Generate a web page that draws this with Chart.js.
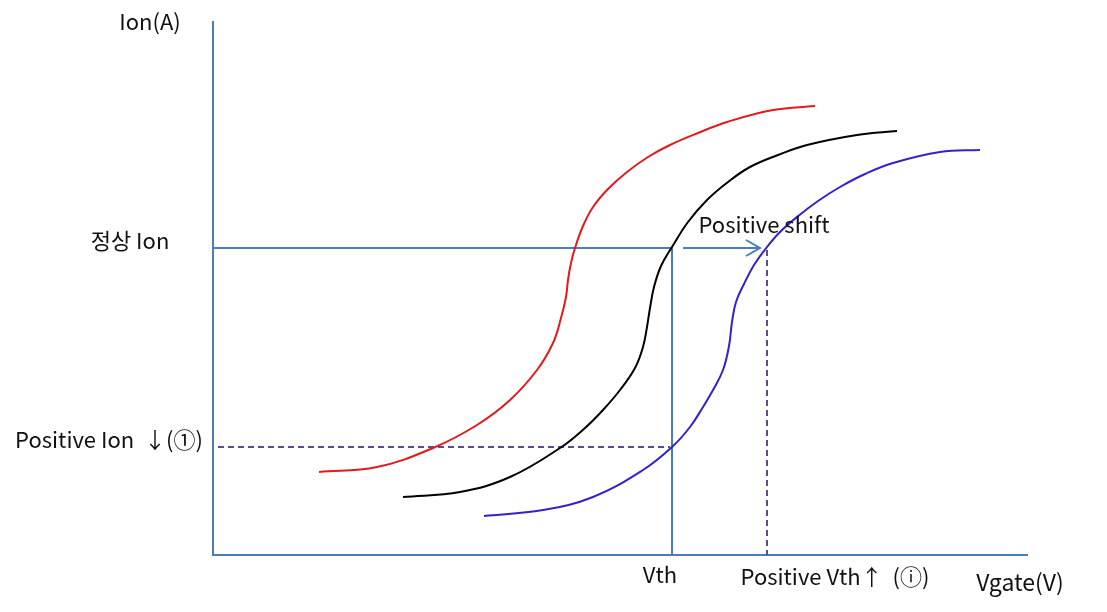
<!DOCTYPE html>
<html>
<head>
<meta charset="utf-8">
<script src="https://cdn.jsdelivr.net/npm/chart.js@4/dist/chart.umd.min.js"></script>
<style>
  body { margin: 0; background: #fff; }
</style>
</head>
<body>
<canvas id="sw-chart" width="1107" height="612"></canvas>
<script>
// curva deslocada (Ion baixo)
var redVg  = [106, 164, 220, 264, 297, 324, 340, 348, 353, 355, 358, 362, 370, 380, 395, 414, 435, 457, 485, 514, 560, 602];
var redIon = [83, 88, 107, 130, 155, 185, 212, 237, 258, 275, 292, 307, 329, 348, 366, 383, 398, 410, 422, 433, 445, 449];
// curva normal
var blackVg  = [190, 247, 297, 347, 372, 390, 407, 422, 430, 434, 437, 441, 448, 459, 475, 494, 515, 537, 565, 594, 644, 684];
var blackIon = [58, 63, 78, 107, 127, 145, 165, 187, 208, 228, 247, 268, 289, 308, 333, 355, 373, 388, 400, 410, 420, 424];
// positive shift
var blueVg  = [271, 330, 380, 430, 459, 477, 490, 500, 510, 516, 519, 523, 531, 541, 554, 567, 584, 605, 627, 652, 680, 727, 767];
var blueIon = [39, 45, 58, 85, 108, 128, 148, 165, 185, 209, 233, 253, 271, 290, 308, 323, 338, 354, 368, 381, 392, 403, 405];

var vth = 459;
var vthShift = 554;
var ionNormal = 307;
var ionLow = 108;
var arrowFrom = 470, arrowTo = 547;

function pts(xs, ys) {
  return xs.map(function (x, i) { return { x: x, y: ys[i] }; });
}

var lineBlue = "#4a7ebb";
var purple = "#5f4b8b";
var font = "'Noto Sans CJK KR', 'Noto Sans', sans-serif";

var labels = {
  id: "labels",
  afterDraw: function (chart) {
    var ctx = chart.ctx;
    var xs = chart.scales.x, ys = chart.scales.y;
    ctx.save();
    // ponta da seta
    var tx = xs.getPixelForValue(arrowTo), ty = ys.getPixelForValue(ionNormal);
    ctx.strokeStyle = lineBlue;
    ctx.lineWidth = 2;
    ctx.beginPath();
    ctx.moveTo(tx - 14, ty - 8);
    ctx.lineTo(tx, ty);
    ctx.lineTo(tx - 14, ty + 8);
    ctx.stroke();

    ctx.fillStyle = "#111";
    ctx.textBaseline = "middle";
    ctx.textAlign = "center";
    ctx.font = "22px " + font;
    ctx.fillText("Ion(A)", 150, 22);
    ctx.fillText("정상 Ion", 130, ys.getPixelForValue(ionNormal) - 7);
    ctx.fillText("Positive Ion  \u2193(\u2460)", 109, ys.getPixelForValue(ionLow) - 7);
    ctx.fillText("Positive shift", 764, ys.getPixelForValue(ionNormal) - 23);
    ctx.fillText("Vth", xs.getPixelForValue(vth) - 12, xs.bottom + 20);
    ctx.fillText("Positive Vth\u2191  (\u24d8)", 835, xs.bottom + 22);
    ctx.font = "23px " + font;
    ctx.fillText("Vgate(V)", 1020, xs.bottom + 27);
    ctx.restore();
  }
};

var curve = { borderWidth: 2, tension: 0.4 };

new Chart(document.getElementById("sw-chart"), {
  type: "scatter",
  data: {
    datasets: [
      Object.assign({ data: pts(redVg, redIon), borderColor: "#e31a1c" }, curve),
      Object.assign({ data: pts(blackVg, blackIon), borderColor: "#000000" }, curve),
      Object.assign({ data: pts(blueVg, blueIon), borderColor: "#3322cc" }, curve),
      { data: [{ x: 0, y: ionNormal }, { x: vth, y: ionNormal }, { x: vth, y: 0 }], borderColor: lineBlue, borderWidth: 2 },
      { data: [{ x: arrowFrom, y: ionNormal }, { x: arrowTo, y: ionNormal }], borderColor: lineBlue, borderWidth: 2 },
      { data: [{ x: 5, y: ionLow }, { x: vth - 2, y: ionLow }], borderColor: purple, borderWidth: 2, borderDash: [6, 4] },
      { data: [{ x: vthShift, y: ionNormal - 2 }, { x: vthShift, y: 0 }], borderColor: purple, borderWidth: 2, borderDash: [6, 4] }
    ]
  },
  options: {
    responsive: false,
    animation: false,
    showLine: true,
    elements: { point: { radius: 0, hoverRadius: 0 } },
    layout: { padding: { left: 213, right: 80, top: 22, bottom: 57 } },
    scales: {
      x: {
        type: "linear", min: 0, max: 814,
        grid: { display: false, drawTicks: false },
        ticks: { display: false },
        border: { color: lineBlue, width: 2 }
      },
      y: {
        type: "linear", min: 0, max: 533,
        grid: { display: false, drawTicks: false },
        ticks: { display: false },
        border: { color: lineBlue, width: 2 }
      }
    },
    plugins: {
      legend: { display: false },
      tooltip: { enabled: false }
    }
  },
  plugins: [labels]
});
</script>
</body>
</html>
